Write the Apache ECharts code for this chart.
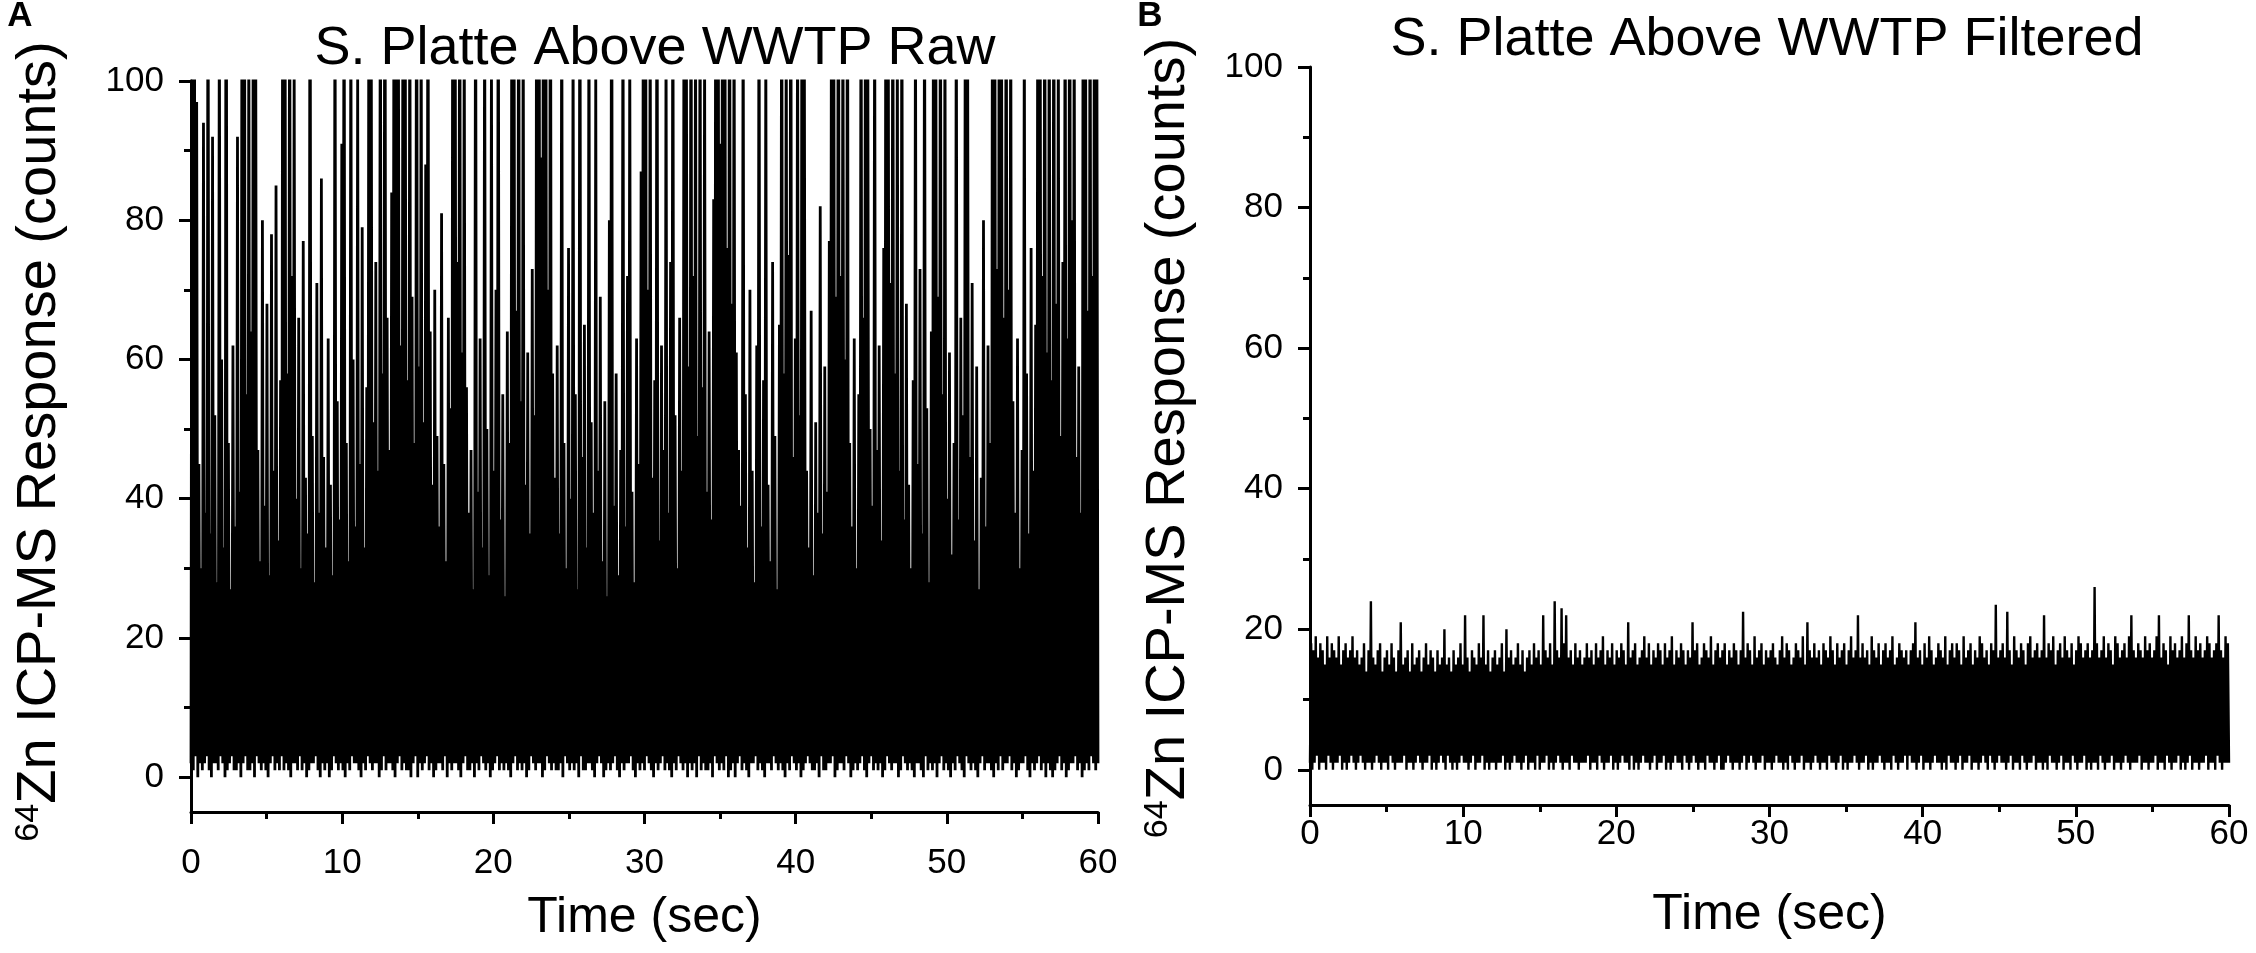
<!DOCTYPE html>
<html><head><meta charset="utf-8">
<script src="https://cdn.jsdelivr.net/npm/echarts@6/dist/echarts.min.js"></script>
<style>html,body{margin:0;padding:0;background:#fff}#c{width:2256px;height:953px}</style>
</head><body><div id="c"></div>
<script>
const sampleStep = 0.15;
const xTicks = [0, 10, 20, 30, 40, 50, 60];
const yTicks = [0, 20, 40, 60, 80, 100];
const yMinorTicks = [10, 30, 50, 70, 90];
const panelTitles = ['S. Platte Above WWTP Raw', 'S. Platte Above WWTP Filtered'];
const panelLetters = ['A', 'B'];
const xName = 'Time (sec)';
const yName = '{sup|64}Zn ICP-MS Response (counts)';

const rawPeaks = [
140,120,97,45,30,94,38,130,35,92,52,28,115,60,33,150,48,27,62,36,
92,41,125,160,55,110,64,135,118,47,31,80,39,68,29,78,44,85,34,57,
145,112,58,128,72,104,40,66,30,77,43,35,138,49,28,71,38,86,46,33,
63,42,29,122,54,37,91,133,48,31,117,60,36,102,45,79,33,56,140,108,
51,74,44,127,58,150,66,47,84,119,170,105,62,131,112,57,124,69,48,143,
59,116,51,88,137,64,42,70,49,36,81,45,31,66,53,150,121,74,140,61,
113,56,38,47,27,129,41,63,33,118,50,29,106,44,70,132,37,55,26,64,
48,126,109,67,140,54,115,42,61,35,73,52,160,133,89,175,120,70,146,58,
43,62,35,124,48,30,76,40,111,55,27,137,46,65,33,119,51,38,103,44,
69,31,54,26,80,142,39,58,29,47,121,36,72,108,41,28,63,45,87,130,
125,70,117,43,57,139,34,62,47,110,38,74,128,52,30,66,44,150,104,59,
136,72,115,49,123,56,107,41,64,37,83,165,128,91,180,114,76,143,68,120,
61,47,39,119,55,33,70,44,28,62,126,36,57,108,42,31,74,49,27,65,
131,58,112,75,140,46,63,118,52,149,106,44,33,67,29,51,38,82,35,59,
41,77,134,110,69,155,72,121,60,138,48,36,63,30,55,127,66,144,103,50,
39,118,47,62,34,76,150,113,71,132,58,109,44,125,37,68,42,30,57,116,
45,73,35,122,53,28,64,141,107,69,130,55,114,40,61,32,48,119,37,66,
52,128,111,46,71,34,59,27,43,80,36,62,48,135,117,73,150,104,66,139,
70,121,54,38,63,30,47,112,58,35,76,44,65,145,116,72,133,61,124,57,
137,68,110,49,74,128,63,151,80,115,46,59,38,142,119,67,130,72,160,108
];
const rawTroughs = [
2,1,3,0,2,1,2,3,1,0,2,2,1,3,2,0,1,2,3,1,
1,2,0,2,3,1,1,2,0,3,2,1,2,1,0,2,3,1,2,1,
3,1,2,1,0,2,2,1,3,1,2,0,1,2,2,3,1,0,2,1,
2,0,1,3,2,1,2,1,0,2,1,3,2,2,1,0,2,1,3,2,
1,2,2,0,1,3,1,2,2,1,0,2,3,1,2,1,1,0,2,3,
0,2,1,2,3,1,2,0,1,2,2,1,3,0,2,1,2,2,1,0,
2,3,1,1,2,0,2,1,3,2,1,2,0,1,2,3,1,2,1,2,
1,0,2,3,1,2,1,2,0,1,3,2,1,2,2,0,1,3,2,1,
2,1,1,2,0,3,2,1,2,1,2,0,3,1,1,2,2,1,0,2,
3,2,0,1,2,1,2,3,1,0,2,1,2,2,3,1,0,2,1,2,
1,3,2,1,0,2,1,2,3,1,2,1,0,2,1,3,2,1,2,0,
2,1,2,0,3,1,2,1,1,2,0,3,2,1,2,1,3,0,1,2,
0,2,3,1,2,1,0,2,2,3,1,2,1,0,2,2,1,3,2,1,
2,1,0,2,1,3,2,1,2,0,1,2,3,2,1,1,2,0,3,1,
1,2,2,3,0,1,2,2,1,3,2,0,1,2,1,2,3,1,0,2,
3,1,2,1,2,0,1,3,2,1,2,2,0,1,3,2,1,2,1,0,
2,2,1,0,3,1,2,1,2,0,2,3,1,2,1,0,2,1,3,2,
1,0,3,2,1,2,1,0,2,3,1,2,2,1,0,2,1,3,1,2,
2,3,1,2,0,1,2,2,3,1,0,2,1,2,3,1,2,0,2,1,
0,1,2,3,1,2,0,1,2,2,3,1,2,0,1,2,1,3,2,1,2
];
const filtPeaks = [
18,17,19,16,18,17,15,19,16,18,17,16,19,15,17,18,16,17,19,16,
17,15,16,18,14,17,24,16,15,17,18,14,16,17,15,18,16,14,17,21,
15,16,17,14,18,15,16,17,14,16,18,15,17,16,14,17,15,16,20,15,
16,14,17,15,16,18,15,22,16,14,17,16,15,18,16,22,15,17,14,16,
17,15,16,18,14,20,16,17,15,16,18,15,17,14,16,17,15,18,16,17,
15,22,17,16,18,15,24,17,16,23,18,22,16,17,15,18,16,17,15,16,
18,16,17,15,18,16,17,19,15,17,16,18,15,17,16,18,17,15,21,16,
17,18,15,16,17,19,16,18,15,17,16,18,17,15,18,16,17,19,15,17,
16,18,17,15,17,16,21,17,18,15,16,18,17,16,19,15,17,18,16,17,
18,15,17,16,18,17,15,17,22.5,16,18,17,15,19,16,17,18,15,17,16,
17,18,16,15,17,19,16,18,17,15,16,18,17,16,19,15,21,17,16,18,
16,17,15,18,17,16,19,17,15,18,16,17,18,15,17,19,16,17,22,16,
18,16,17,15,19,17,16,18,15,17,18,16,17,19,15,16,18,17,16,17,
15,17,18,21,16,17,15,18,16,19,17,15,16,18,17,16,19,15,17,18,
16,18,17,15,19,16,17,18,15,17,16,19,18,16,17,15,18,17,23.5,16,
17,18,16,22.5,17,15,19,17,16,18,17,15,18,19,16,17,18,16,17,22,
16,18,17,19,15,17,18,16,19,17,16,18,15,17,19,18,16,17,18,16,
17,26,18,16,17,19,16,18,17,15,19,18,16,17,18,16,19,22,17,16,
18,17,16,19,17,18,16,17,19,22,16,18,17,15,19,17,18,16,17,19,
16,18,22,17,16,19,17,18,16,17,19,18,16,17,18,22,17,16,19,18
];
const filtTroughs = [
1,0,1,2,0,1,1,0,2,1,0,1,1,2,0,1,0,1,2,1,
0,1,2,1,0,1,1,0,1,2,1,0,1,1,0,2,1,0,1,1,
1,2,0,1,1,0,1,2,1,0,1,1,2,0,1,0,1,2,1,0,
2,1,0,1,0,1,2,1,1,0,1,2,0,1,1,2,0,1,0,1,
1,0,1,1,2,0,1,0,1,2,1,1,0,1,2,0,1,1,0,2,
0,1,1,2,0,1,0,1,2,1,0,1,1,0,2,1,1,0,1,1,
1,2,0,1,1,0,2,1,0,1,1,2,0,1,0,1,2,1,1,0,
2,0,1,0,1,2,1,1,0,1,2,0,1,1,2,0,1,0,1,2,
1,1,0,2,1,0,1,2,1,0,1,1,0,2,1,1,0,1,2,0,
0,1,2,1,0,1,1,0,1,2,0,1,2,1,0,1,1,2,0,1,
1,0,1,2,1,1,0,1,0,2,1,0,1,1,2,0,1,1,0,1,
2,1,0,1,1,0,2,1,1,0,1,2,0,1,0,1,1,2,1,0,
1,1,2,0,1,0,1,1,2,1,0,1,1,0,2,1,0,1,1,2,
0,2,1,1,0,1,2,0,1,1,0,1,2,1,1,0,1,0,2,1,
1,0,1,2,0,1,1,2,0,1,1,0,1,2,1,0,2,1,0,1,
2,1,1,0,1,2,0,1,1,0,2,1,0,1,1,2,0,1,1,0,
1,0,2,1,1,0,1,2,0,1,1,0,2,1,0,1,1,2,0,1,
0,1,1,0,2,1,0,1,1,2,0,1,1,0,1,2,1,0,1,1,
1,2,0,1,1,0,1,1,2,0,1,1,0,2,1,0,1,1,2,0,
1,0,1,2,0,1,1,0,1,1,2,0,1,1,0,2,1,0,1,1,1
];

function buildTrace(peaks, troughs) {
  const pts = [];
  for (let i = 0; i < peaks.length; i++) {
    pts.push([i * sampleStep, troughs[i]]);
    pts.push([i * sampleStep + sampleStep / 2, peaks[i]]);
  }
  pts.push([peaks.length * sampleStep, troughs[peaks.length]]);
  return pts;
}

const FONT = 'Liberation Sans';
const grids = [
  { left: 191, top: 81, width: 907, height: 731, containLabel: false, outerBoundsMode: 'none' },
  { left: 1310, top: 67, width: 919, height: 738, containLabel: false, outerBoundsMode: 'none' }
];
const yNameGaps = [151, 141];
const yNamePads = [[0, 0, 0, 10], [0, 4, 0, 0]];
const xNameGaps = [106, 110];
const xLabelMargins = [34, 12];
const traces = [buildTrace(rawPeaks, rawTroughs), buildTrace(filtPeaks, filtTroughs)];
const lineWidths = [2.8, 2.4];

const axisLineStyle = () => ({ color: '#000', width: 3 });
const xAxes = [], mainY = [], minorY = [], series = [];
grids.forEach((g, i) => {
  xAxes.push({
    type: 'value', gridIndex: i, position: 'bottom', min: xTicks[0], max: xTicks[xTicks.length - 1], interval: 10,
    axisLine: { show: true, onZero: false, lineStyle: axisLineStyle() },
    axisTick: { show: true, length: 12, lineStyle: axisLineStyle() },
    minorTick: { show: true, splitNumber: 2, length: 7, lineStyle: axisLineStyle() },
    axisLabel: { fontSize: 35, color: '#000', fontFamily: FONT, margin: xLabelMargins[i] },
    splitLine: { show: false }, minorSplitLine: { show: false },
    name: xName, nameLocation: 'middle', nameGap: xNameGaps[i],
    nameTextStyle: { fontSize: 50, color: '#000', fontFamily: FONT, verticalAlign: 'middle' }
  });
  mainY.push({
    type: 'value', gridIndex: i, min: -5, max: 100, position: 'left',
    axisLine: { show: true, onZero: false, lineStyle: axisLineStyle() },
    axisTick: { show: true, length: 12, lineStyle: axisLineStyle(), customValues: yTicks },
    axisLabel: { fontSize: 35, color: '#000', fontFamily: FONT, margin: 27, customValues: yTicks },
    splitLine: { show: false },
    name: yName, nameLocation: 'middle', nameRotate: 90, nameGap: yNameGaps[i],
    nameTextStyle: {
      fontSize: 56, color: '#000', fontFamily: FONT, verticalAlign: 'middle', padding: yNamePads[i],
      rich: { sup: { fontSize: 34, color: '#000', fontFamily: FONT, verticalAlign: 'top' } }
    }
  });
  minorY.push({
    type: 'value', gridIndex: i, min: -5, max: 100, position: 'left', offset: 0,
    axisLine: { show: false, onZero: false },
    axisTick: { show: true, length: 7, lineStyle: axisLineStyle(), customValues: yMinorTicks },
    axisLabel: { show: false, customValues: yMinorTicks },
    splitLine: { show: false }
  });
  series.push({
    type: 'line', xAxisIndex: i, yAxisIndex: i, data: traces[i],
    showSymbol: false, symbol: 'none', sampling: false, clip: true, silent: true,
    lineStyle: { color: '#000', width: lineWidths[i] }
  });
});

const graphics = [
  { type: 'text', x: 655, y: 49, style: { text: panelTitles[0], fontSize: 54, fontFamily: FONT, fill: '#000', align: 'center', verticalAlign: 'middle' } },
  { type: 'text', x: 1767, y: 40, style: { text: panelTitles[1], fontSize: 54, fontFamily: FONT, fill: '#000', align: 'center', verticalAlign: 'middle' } },
  { type: 'text', x: 20, y: 16, style: { text: panelLetters[0], fontSize: 35, fontWeight: 'bold', fontFamily: FONT, fill: '#000', align: 'center', verticalAlign: 'middle' } },
  { type: 'text', x: 1150, y: 16, style: { text: panelLetters[1], fontSize: 35, fontWeight: 'bold', fontFamily: FONT, fill: '#000', align: 'center', verticalAlign: 'middle' } }
];

const chart = echarts.init(document.getElementById('c'), null, { renderer: 'canvas' });
chart.setOption({
  animation: false,
  backgroundColor: '#fff',
  grid: grids,
  xAxis: xAxes,
  yAxis: mainY.concat(minorY),
  series: series,
  graphic: graphics
});
</script></body></html>
